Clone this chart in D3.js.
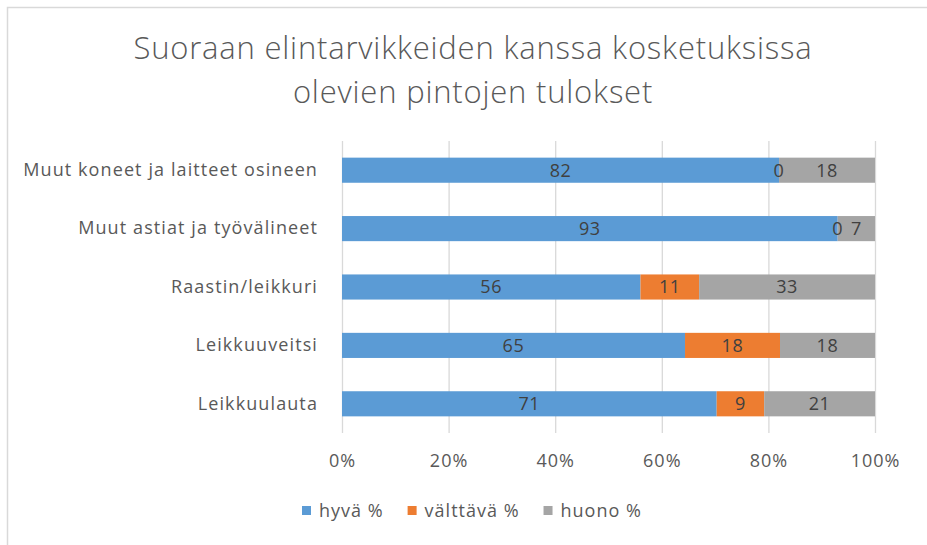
<!DOCTYPE html>
<html>
<head>
<meta charset="utf-8">
<script src="https://cdn.jsdelivr.net/npm/d3@7"></script>
<style>
    body { margin: 0; background: #fff; }
    text { font-family: "Open Sans", sans-serif; }
</style>
</head>
<body>
<div id="chart"></div>
<script>
const categories = [
    "Muut koneet ja laitteet osineen",
    "Muut astiat ja työvälineet",
    "Raastin/leikkuri",
    "Leikkuuveitsi",
    "Leikkuulauta"
];
const seriesNames = ["hyvä %", "välttävä %", "huono %"];
const hyva = [82, 93, 56, 65, 71];
const valttava = [0, 0, 11, 18, 9];
const huono = [18, 7, 33, 18, 21];
const xTicks = [0, 0.2, 0.4, 0.6, 0.8, 1];
const colors = ["#5b9bd5", "#ed7d31", "#a5a5a5"];

const width = 927, height = 545;
const margin = {top: 141, right: 52, bottom: 112, left: 342};
const innerW = width - margin.left - margin.right,
    innerH = height - margin.top - margin.bottom;

const svg = d3.select("#chart")
    .append("svg")
    .attr("width", width)
    .attr("height", height);

// chart frame
svg.append("rect")
    .attr("x", 7.5)
    .attr("y", 7.5)
    .attr("width", 960)
    .attr("height", 600)
    .attr("fill", "none")
    .attr("stroke", "#d9d9d9")
    .attr("stroke-width", 1.5);

// title
const title = svg.append("text")
    .attr("text-anchor", "middle")
    .style("font-size", "31px")
    .style("letter-spacing", "0.8px")
    .style("font-weight", 300)
    .style("fill", "#595959");
title.append("tspan").attr("x", 473).attr("y", 59)
    .text("Suoraan elintarvikkeiden kanssa kosketuksissa");
title.append("tspan").attr("x", 473).attr("y", 103)
    .text("olevien pintojen tulokset");

const chart = svg.append("g")
    .attr("transform", `translate(${margin.left}, ${margin.top})`);

// rows normalised to 100 %
const rows = categories.map((c, i) => {
    const total = hyva[i] + valttava[i] + huono[i];
    return {cat: c, vals: [hyva[i], valttava[i], huono[i]], total: total};
});
const stacked = d3.stack()
    .keys([0, 1, 2])
    .value((d, k) => d.vals[k] / d.total)(rows);

const xScale = d3.scaleLinear()
    .domain([0, 1])
    .range([0, innerW]);

const yScale = d3.scaleBand()
    .domain(categories)
    .range([0, innerH])
    .paddingInner(0.57)
    .paddingOuter(0.285);

// gridlines + tick labels
const xAxis = chart.append("g")
    .attr("transform", `translate(0, ${innerH})`)
    .call(d3.axisBottom(xScale)
        .tickValues(xTicks)
        .tickFormat(d3.format(".0%"))
        .tickSize(-innerH)
        .tickPadding(21));
xAxis.select(".domain").remove();
xAxis.selectAll("line").attr("stroke", "#d9d9d9").attr("stroke-width", 1.3);
xAxis.selectAll("text")
    .style("font-family", "'Open Sans', sans-serif")
    .style("font-size", "18px")
    .style("letter-spacing", "1px")
    .style("fill", "#595959");

// category labels
const yAxis = chart.append("g")
    .call(d3.axisLeft(yScale).tickSize(0).tickPadding(24));
yAxis.select(".domain").remove();
yAxis.selectAll("text")
    .style("font-family", "'Open Sans', sans-serif")
    .style("font-size", "18px")
    .style("letter-spacing", "1.1px")
    .style("fill", "#595959");

// bars
const layers = chart.selectAll(".layer")
    .data(stacked)
    .enter()
    .append("g")
    .attr("class", "layer")
    .attr("fill", (d, i) => colors[i]);

layers.selectAll("rect")
    .data(d => d)
    .enter()
    .append("rect")
    .attr("x", d => xScale(d[0]))
    .attr("y", d => yScale(d.data.cat))
    .attr("width", d => xScale(d[1]) - xScale(d[0]))
    .attr("height", yScale.bandwidth());

// value labels, drawn above all bars
const labels = chart.append("g");
stacked.forEach((layer, k) => {
    labels.selectAll(null)
        .data(layer)
        .enter()
        .append("text")
        .attr("x", d => xScale((d[0] + d[1]) / 2))
        .attr("y", d => yScale(d.data.cat) + yScale.bandwidth() / 2)
        .attr("dy", "0.35em")
        .attr("text-anchor", "middle")
        .style("font-size", "18px")
        .style("letter-spacing", "0.6px")
        .style("fill", "#404040")
        .text(d => d.data.vals[k]);
});

// legend
const legend = svg.append("g").attr("transform", "translate(0, 511)");
let lx = 302;
seriesNames.forEach((name, i) => {
    const item = legend.append("g").attr("transform", `translate(${lx}, 0)`);
    item.append("rect")
        .attr("x", 0)
        .attr("y", -5)
        .attr("width", 9)
        .attr("height", 9)
        .attr("fill", colors[i]);
    const t = item.append("text")
        .attr("x", 17)
        .attr("dy", "0.35em")
        .style("font-size", "18px")
        .style("letter-spacing", "1px")
        .style("fill", "#595959")
        .text(name);
    lx += 17 + t.node().getComputedTextLength() + 24;
});
</script>
</body>
</html>
